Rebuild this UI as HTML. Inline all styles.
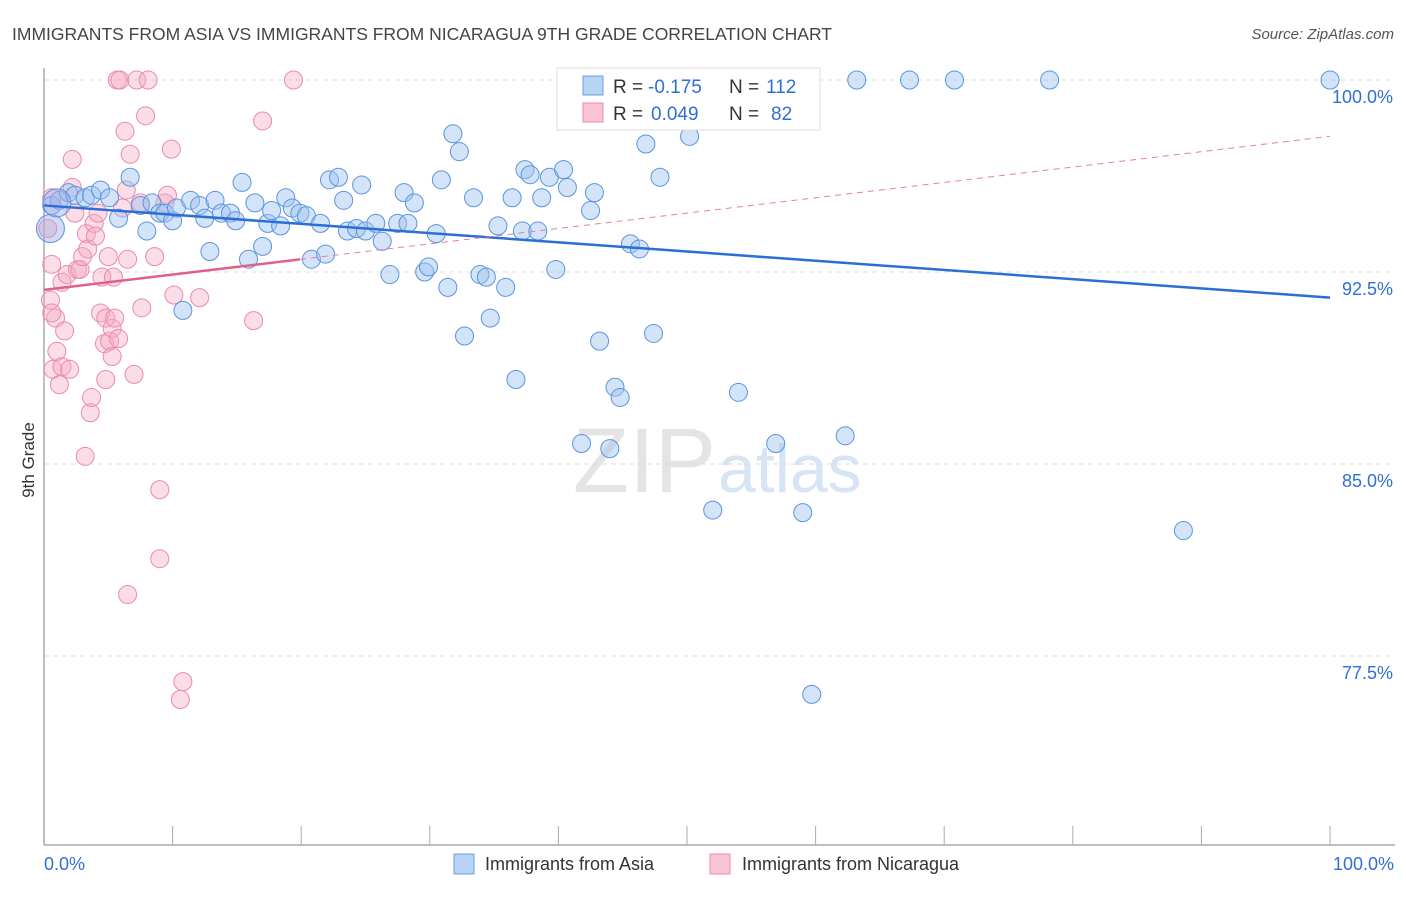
<!DOCTYPE html>
<html><head><meta charset="utf-8"><style>
body{margin:0;background:#fff;font-family:"Liberation Sans",sans-serif;}
svg text{font-family:"Liberation Sans",sans-serif;}
</style></head><body>
<svg id="c" width="1406" height="892" xmlns="http://www.w3.org/2000/svg">
<text x="12" y="40" font-size="17.5" fill="#444">IMMIGRANTS FROM ASIA VS IMMIGRANTS FROM NICARAGUA 9TH GRADE CORRELATION CHART</text>
<text x="1394" y="39" font-size="15" fill="#555" text-anchor="end" font-style="italic">Source: ZipAtlas.com</text>
<text x="34" y="460" font-size="17" fill="#333" text-anchor="middle" transform="rotate(-90 34 460)">9th Grade</text>
<text x="716" y="492" font-size="92" fill="#e4e4e4" text-anchor="end" font-family="Liberation Serif">ZIP</text>
<text x="718" y="492" font-size="68" fill="#d6e4f3">atlas</text>
<g id="grid"></g><g id="axes"></g><g id="lines"></g><g id="pts"></g>
<g>
<rect x="557" y="68" width="263" height="62" fill="#fff" stroke="#ddd"/>
<rect x="583" y="76" width="20" height="19" fill="#b8d4f5" stroke="#6a9fe0"/>
<rect x="583" y="103" width="20" height="19" fill="#f9c5d6" stroke="#ec8aa8"/>
<text x="613" y="93" font-size="19" fill="#333">R =</text>
<text x="648" y="93" font-size="19" fill="#2f6fd6">-0.175</text>
<text x="729" y="93" font-size="19" fill="#333">N =</text>
<text x="766" y="93" font-size="19" fill="#2f6fd6">112</text>
<text x="613" y="120" font-size="19" fill="#333">R =</text>
<text x="651" y="120" font-size="19" fill="#2f6fd6">0.049</text>
<text x="729" y="120" font-size="19" fill="#333">N =</text>
<text x="771" y="120" font-size="19" fill="#2f6fd6">82</text>
</g>
<g>
<rect x="454" y="854" width="20" height="20" fill="#b8d4f5" stroke="#6a9fe0"/>
<text x="485" y="870" font-size="18" fill="#333">Immigrants from Asia</text>
<rect x="710" y="854" width="20" height="20" fill="#f9c5d6" stroke="#ec8aa8"/>
<text x="742" y="870" font-size="18" fill="#333">Immigrants from Nicaragua</text>
</g>
</svg>
<script>
const yTicks=[100,92.5,85,77.5];
const yTickLabels=["100.0%","92.5%","85.0%","77.5%"];
const xLabels=["0.0%","100.0%"];
const asiaTrend=[95.1,91.5];
const nicTrend=[91.8,97.8];
const nicSolidEnd=19.9;
const asiaPts=[[0.6,95.1],[1.2,95.3],[1.9,95.6],[2.4,95.5],[3.2,95.4],[3.7,95.5],[4.4,95.7],[5.1,95.4],[5.8,94.6],[6.7,96.2],[7.5,95.1],[8.0,94.1],[8.4,95.2],[9.0,94.8],[9.4,94.8],[10.0,94.5],[10.3,95.0],[10.8,91.0],[11.4,95.3],[12.1,95.1],[12.5,94.6],[12.9,93.3],[13.3,95.3],[13.8,94.8],[14.5,94.8],[14.9,94.5],[15.4,96.0],[15.9,93.0],[16.4,95.2],[17.0,93.5],[17.4,94.4],[17.7,94.9],[18.4,94.3],[18.8,95.4],[19.3,95.0],[19.9,94.8],[20.4,94.7],[20.8,93.0],[21.5,94.4],[21.9,93.2],[22.2,96.1],[22.9,96.2],[23.3,95.3],[23.6,94.1],[24.3,94.2],[24.7,95.9],[25.0,94.1],[25.8,94.4],[26.3,93.7],[26.9,92.4],[27.5,94.4],[28.0,95.6],[28.3,94.4],[28.8,95.2],[29.6,92.5],[29.9,92.7],[30.5,94.0],[30.9,96.1],[31.4,91.9],[31.8,97.9],[32.3,97.2],[32.7,90.0],[33.4,95.4],[33.9,92.4],[34.4,92.3],[34.7,90.7],[35.3,94.3],[35.9,91.9],[36.4,95.4],[36.7,88.3],[37.2,94.1],[37.4,96.5],[37.8,96.3],[38.4,94.1],[38.7,95.4],[39.3,96.2],[39.8,92.6],[40.4,96.5],[40.7,95.8],[41.8,85.8],[42.5,94.9],[42.8,95.6],[43.2,89.8],[44.0,85.6],[44.4,88.0],[44.8,87.6],[45.6,93.6],[46.3,93.4],[46.8,97.5],[47.4,90.1],[47.9,96.2],[50.2,97.8],[52.0,83.2],[52.4,98.8],[53.1,100],[54.0,87.8],[56.9,85.8],[59.0,83.1],[59.7,76.0],[62.3,86.1],[63.2,100],[67.3,100],[70.8,100],[78.2,100],[88.6,82.4],[100,100]];
const asiaBigPts=[[0.5,94.2],[1.0,95.2]];
const nicPts=[[0.6,95.4],[0.6,92.8],[0.5,91.4],[0.9,90.7],[0.6,90.9],[1.0,89.4],[0.7,88.7],[1.2,88.1],[1.4,88.8],[1.6,90.2],[1.4,92.1],[1.8,92.4],[2.0,88.7],[2.2,96.9],[2.2,95.8],[2.4,94.8],[2.6,92.6],[2.8,92.6],[3.0,93.1],[3.2,85.3],[3.3,94.0],[3.4,93.4],[3.6,87.0],[3.7,87.6],[3.9,94.4],[4.0,93.9],[4.2,94.8],[4.4,90.9],[4.5,92.3],[4.7,89.7],[4.8,88.3],[4.8,90.7],[5.0,93.1],[5.1,89.8],[5.3,89.2],[5.3,90.3],[5.4,92.3],[5.5,90.7],[5.7,100],[5.8,89.9],[5.9,100],[6.1,95.0],[6.3,98.0],[6.4,95.7],[6.5,93.0],[6.5,79.9],[6.7,97.1],[7.0,88.5],[7.2,100],[7.5,95.2],[7.6,91.1],[7.9,98.6],[8.1,100],[8.6,93.1],[9.0,84.0],[9.0,81.3],[9.4,95.2],[9.6,95.5],[9.9,97.3],[10.1,91.6],[10.6,75.8],[10.8,76.5],[12.1,91.5],[16.3,90.6],[17.0,98.4],[19.4,100],[0.3,94.2]];
const X0=44,X1=1330,Y100=80,PXPER=192/7.5;
const sx=v=>X0+(X1-X0)*v/100, sy=v=>Y100+(100-v)*PXPER;
const NS="http://www.w3.org/2000/svg";
function mk(tag,attrs,parent){const e=document.createElementNS(NS,tag);for(const k in attrs)e.setAttribute(k,attrs[k]);document.getElementById(parent).appendChild(e);return e;}
yTicks.forEach((t,i)=>{
 const g=mk('line',{x1:44,x2:1395,y1:sy(t),y2:sy(t),stroke:'#ddd','stroke-dasharray':'5,4'},'grid');
 
 
 const tx=mk('text',{x:1393,y:sy(t)+23,'font-size':18,fill:'#2f6fd6','text-anchor':'end'},'axes');
 tx.textContent=yTickLabels[i];
 
 
});
const ya=mk('line',{x1:44,x2:44,y1:68,y2:845,stroke:'#aaa','stroke-width':1.5},'axes');


const xa=mk('line',{x1:44,x2:1395,y1:845,y2:845,stroke:'#aaa','stroke-width':1.5},'axes');


for(let i=0;i<=10;i++){const t=mk('line',{x1:sx(i*10),x2:sx(i*10),y1:826,y2:845,stroke:'#aaa'},'axes');
 
 }
[[0,'start',44],[100,'end',1394]].forEach((d,i)=>{const t=mk('text',{x:d[2],y:870,'font-size':18,fill:'#2f6fd6','text-anchor':d[1]},'axes');t.textContent=xLabels[i];
 
 });
const nicAt=x=>nicTrend[0]+(nicTrend[1]-nicTrend[0])*x/100;
nicPts.forEach(p=>{const c=mk('circle',{cx:sx(p[0]),cy:sy(p[1]),r:9,fill:'rgba(246,170,196,0.4)',stroke:'#ec8aa8','stroke-width':1},'pts');
 
 });
asiaPts.forEach(p=>{const c=mk('circle',{cx:sx(p[0]),cy:sy(p[1]),r:9,fill:'rgba(160,196,240,0.45)',stroke:'#5a94df','stroke-width':1},'pts');
 
 });
asiaBigPts.forEach(p=>{const c=mk('circle',{cx:sx(p[0]),cy:sy(p[1]),r:14,fill:'rgba(160,170,230,0.45)',stroke:'#5a94df','stroke-width':1},'pts');
 
 });
const la=mk('line',{x1:sx(0),y1:sy(asiaTrend[0]),x2:sx(100),y2:sy(asiaTrend[1]),stroke:'#2b6fd6','stroke-width':2.5},'lines');


const ld=mk('line',{x1:sx(nicSolidEnd),y1:sy(nicAt(nicSolidEnd)),x2:sx(100),y2:sy(nicTrend[1]),stroke:'#e87c9f','stroke-width':1,'stroke-dasharray':'6,5'},'lines');


const ln=mk('line',{x1:sx(0),y1:sy(nicTrend[0]),x2:sx(nicSolidEnd),y2:sy(nicAt(nicSolidEnd)),stroke:'#e0608a','stroke-width':2.5},'lines');


document.getElementById('c').appendChild(document.getElementById('lines'));
</script>
</body></html>
